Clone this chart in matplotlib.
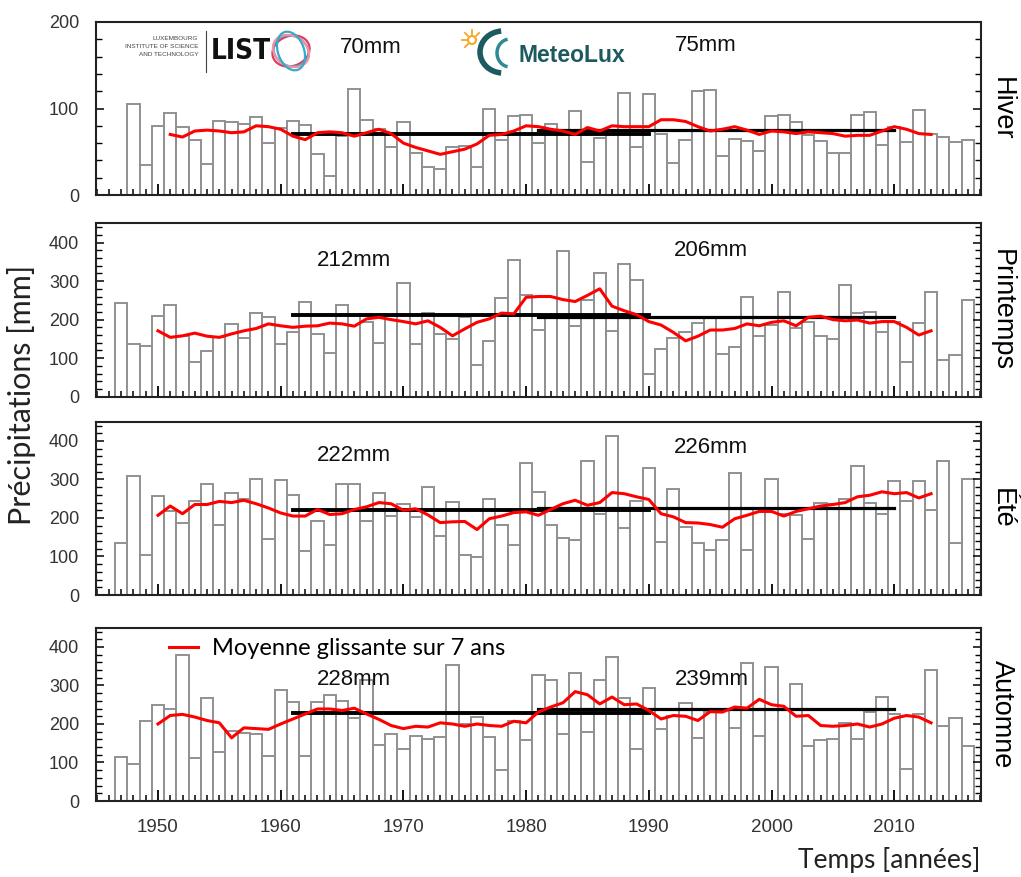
import numpy as np
import matplotlib.pyplot as plt
from matplotlib.ticker import MultipleLocator
from matplotlib.lines import Line2D
from matplotlib.patches import Ellipse, Arc, Circle
from matplotlib.transforms import IdentityTransform

plt.rcParams['font.family'] = ['Liberation Sans', 'DejaVu Sans']

W, H = 1021, 877

# ---- data ----
years_hiver = np.arange(1948, 2017)
years_season = np.arange(1947, 2017)
ma_years_hiver = np.arange(1951, 2014)
ma_years_season = np.arange(1950, 2014)

hiver = [105, 35, 80, 95, 79, 64, 36, 86, 84, 82,
         90, 60, 77, 85, 81, 47, 22, 68, 122, 87,
         76, 55, 84, 49, 32, 30, 55, 57, 32, 99,
         64, 91, 93, 60, 82, 72, 97, 38, 66, 75,
         118, 55, 117, 70, 37, 64, 120, 121, 45, 65,
         62, 51, 91, 92, 84, 69, 62, 49, 48, 92,
         96, 58, 79, 61, 98, 71, 67, 61, 64]

printemps = [243, 137, 132, 209, 238, 158, 91, 119, 154, 189,
             152, 217, 206, 138, 167, 246, 164, 113, 238, 210,
             195, 140, 213, 296, 137, 218, 163, 150, 206, 83,
             145, 257, 354, 263, 174, 210, 377, 183, 250, 322,
             170, 345, 304, 58, 123, 152, 167, 190, 206, 110,
             130, 258, 157, 186, 273, 178, 193, 157, 151, 289,
             217, 219, 169, 193, 91, 191, 271, 95, 109, 252]

ete = [135, 309, 105, 256, 217, 188, 244, 287, 181, 266,
       250, 302, 146, 298, 259, 113, 191, 131, 289, 289,
       192, 265, 204, 235, 203, 280, 153, 242, 105, 98,
       248, 183, 130, 344, 268, 183, 148, 142, 347, 211,
       412, 175, 243, 330, 137, 274, 176, 135, 117, 142,
       318, 118, 226, 300, 211, 208, 146, 240, 237, 250,
       335, 240, 211, 296, 243, 296, 222, 348, 136, 300]

automne = [114, 95, 209, 250, 238, 379, 112, 267, 127, 183,
           176, 173, 116, 287, 258, 116, 257, 274, 259, 216,
           313, 146, 175, 136, 169, 162, 165, 352, 200, 219,
           166, 80, 207, 159, 326, 313, 175, 332, 179, 313,
           375, 267, 134, 294, 188, 222, 254, 163, 230, 240,
           190, 358, 169, 349, 240, 304, 142, 159, 162, 202,
           162, 232, 270, 226, 84, 226, 339, 194, 215, 142]

ma_hiver = [70, 67, 74, 75, 74, 72, 73, 80, 79, 76,
            68, 64, 72, 73, 72, 68, 72, 76, 71, 60,
            55, 51, 47, 50, 53, 59, 69, 70, 74, 80,
            79, 76, 74, 70, 78, 74, 80, 79, 79, 79,
            87, 87, 85, 79, 74, 76, 79, 75, 70, 74,
            73, 71, 73, 72, 71, 68, 69, 69, 74, 79,
            76, 71, 70]

ma_printemps = [171, 154, 158, 165, 157, 154, 163, 171, 177, 189,
                184, 180, 183, 184, 191, 189, 183, 202, 206, 200,
                195, 189, 197, 180, 158, 176, 193, 202, 217, 215,
                258, 260, 260, 252, 247, 263, 280, 235, 223, 213,
                195, 186, 167, 145, 157, 173, 173, 177, 189, 184,
                193, 197, 184, 206, 209, 200, 197, 199, 191, 195,
                195, 180, 160, 171]

ma_ete = [207, 231, 211, 235, 235, 243, 240, 246, 237, 226,
          213, 205, 205, 222, 209, 211, 222, 229, 240, 237,
          220, 224, 208, 188, 190, 191, 170, 198, 205, 214,
          216, 207, 222, 237, 246, 233, 240, 266, 263, 255,
          248, 211, 203, 188, 187, 183, 176, 198, 207, 217,
          217, 205, 217, 224, 231, 235, 240, 255, 259, 268,
          263, 266, 252, 263]

ma_automne = [200, 222, 225, 218, 209, 203, 164, 190, 188, 186,
              200, 213, 226, 239, 239, 235, 241, 226, 212, 196,
              188, 194, 192, 203, 200, 194, 200, 196, 194, 207,
              203, 231, 244, 255, 284, 276, 252, 270, 250, 252,
              235, 213, 222, 220, 209, 232, 231, 244, 241, 264,
              250, 246, 220, 222, 196, 194, 196, 200, 192, 200,
              215, 222, 218, 203]

normals = [(1961, 1990), (1981, 2010)]
means_hiver = [70, 75]
means_printemps = [212, 206]
means_ete = [222, 226]
means_automne = [228, 239]

season_names = ['Hiver', 'Printemps', 'Été', 'Automne']

# ---- layout (pixel frames of the four panels) ----
frames = [(22, 195), (223.3, 396.7), (421.7, 595), (627.7, 801)]
x_left, x_right = 96, 981

fig = plt.figure(figsize=(W / 100, H / 100), dpi=100)

panels = [
    (years_hiver, hiver, ma_years_hiver, ma_hiver, means_hiver, 200, [(1967.3, 171), (1994.6, 173)]),
    (years_season, printemps, ma_years_season, ma_printemps, means_printemps, 450, [(1966.0, 354), (1995.1, 380)]),
    (years_season, ete, ma_years_season, ma_ete, means_ete, 450, [(1966.0, 361), (1995.1, 383)]),
    (years_season, automne, ma_years_season, ma_automne, means_automne, 450, [(1966.0, 316), (1995.1, 316)]),
]

axes = []
for i, (yrs, vals, ma_x, ma_y, means, ytop, label_pos) in enumerate(panels):
    top, bot = frames[i]
    ax = fig.add_axes([x_left / W, 1 - bot / H, (x_right - x_left) / W, (bot - top) / H])
    axes.append(ax)

    ax.bar(yrs, vals, width=1.0, facecolor='white', edgecolor='#909090', linewidth=1.4, zorder=1)
    for (y0, y1), m, lw in zip(normals, means, [2.8, 2.3]):
        ax.plot([y0, y1], [m, m], color='black', lw=lw, zorder=2)
    line, = ax.plot(ma_x, ma_y, color='#ff0000', lw=2.2, zorder=3,
                    label='Moyenne glissante sur 7 ans')
    for (tx, ty), m in zip(label_pos, means):
        ax.text(tx, ty, '%dmm' % m, ha='center', va='center', fontsize=16, color='#111')

    ax.set_xlim(1944.95, 2017.07)
    ax.set_ylim(0, ytop)
    ax.xaxis.set_major_locator(MultipleLocator(10))
    ax.xaxis.set_minor_locator(MultipleLocator(1))
    ax.yaxis.set_major_locator(MultipleLocator(100))
    ax.yaxis.set_minor_locator(MultipleLocator(20))
    ax.tick_params(axis='x', which='major', direction='in', length=8, width=1.3, top=False,
                   labelsize=13.5, labelcolor='#333', pad=13)
    ax.tick_params(axis='x', which='minor', direction='in', length=4, width=1.1, top=False)
    ax.tick_params(axis='y', which='major', direction='in', length=6, width=1.1, left=True, right=True,
                   labelsize=13, labelcolor='#333', pad=12)
    ax.tick_params(axis='y', which='minor', direction='in', length=4, width=1.0, left=True, right=True)
    if i < 3:
        ax.tick_params(axis='x', labelbottom=False)
    for sp in ax.spines.values():
        sp.set_linewidth(1.5)
        sp.set_color('#222')

    ax.text(1.0235, 0.5, season_names[i], transform=ax.transAxes, rotation=-90,
            ha='center', va='center', fontsize=19.5)

    if i == 3:
        ax.legend(handles=[line], loc='upper left', bbox_to_anchor=(0.083, 0.94),
                  frameon=False, handlelength=1.2, handletextpad=0.62,
                  borderpad=0, borderaxespad=0, prop={'family': ['Lato', 'DejaVu Sans'], 'size': 17})

fig.text(22 / W, 1 - 395 / H, 'Précipitations [mm]', rotation=90, ha='center', va='center',
         fontsize=22, family=['Lato', 'DejaVu Sans'], color='#222')
fig.text(980 / W, 1 - 860 / H, 'Temps [années]', ha='right', va='center',
         fontsize=19, family=['Lato', 'DejaVu Sans'], color='#222')

# ---- logos (approximations) ----
for k, t in enumerate(['LUXEMBOURG', 'INSTITUTE OF SCIENCE', 'AND TECHNOLOGY']):
    fig.text(198 / W, 1 - (39 + 8 * k) / H, t, ha='right', va='center', fontsize=4.6, color='#444')
fig.add_artist(Line2D([206 / W, 206 / W], [1 - 31 / H, 1 - 72 / H], color='#444', lw=0.8))
fig.text(211 / W, 1 - 51 / H, 'LIST', ha='left', va='center', fontsize=20, fontweight='bold',
         color='#111', family=['DejaVu Sans'], fontstretch='condensed')
idt = IdentityTransform()
cx, cy = 291, H - 51
for w, h, ang, col in [(38, 30, 20, '#e33b5b'), (36, 30, -25, '#2bb6d3'),
                       (30, 38, 60, '#f291a6'), (40, 26, -70, '#39a9c9')]:
    fig.add_artist(Ellipse((cx, cy), w, h, angle=ang, fill=False, ec=col, lw=1.6, transform=idt))

sx, sy = 472, H - 40
fig.add_artist(Circle((sx, sy), 4, fill=False, ec='#f5a623', lw=1.5, transform=idt))
for a in np.radians([90, 135, 180, 225, 45]):
    fig.add_artist(Line2D([sx + 6 * np.cos(a), sx + 10 * np.cos(a)],
                          [sy + 6 * np.sin(a), sy + 10 * np.sin(a)],
                          color='#f5a623', lw=1.3, transform=idt))
fig.add_artist(Arc((503, H - 52), 46, 42, theta1=95, theta2=265, ec='#1e5a61', lw=4, transform=idt))
fig.add_artist(Arc((510, H - 53), 26, 28, theta1=100, theta2=260, ec='#2f8a93', lw=2.5, transform=idt))
fig.text(519 / W, 1 - 56 / H, 'MeteoLux', ha='left', va='center', fontsize=16.5,
         fontweight='bold', color='#1d5a60')

fig.savefig('out.png', dpi=100)
